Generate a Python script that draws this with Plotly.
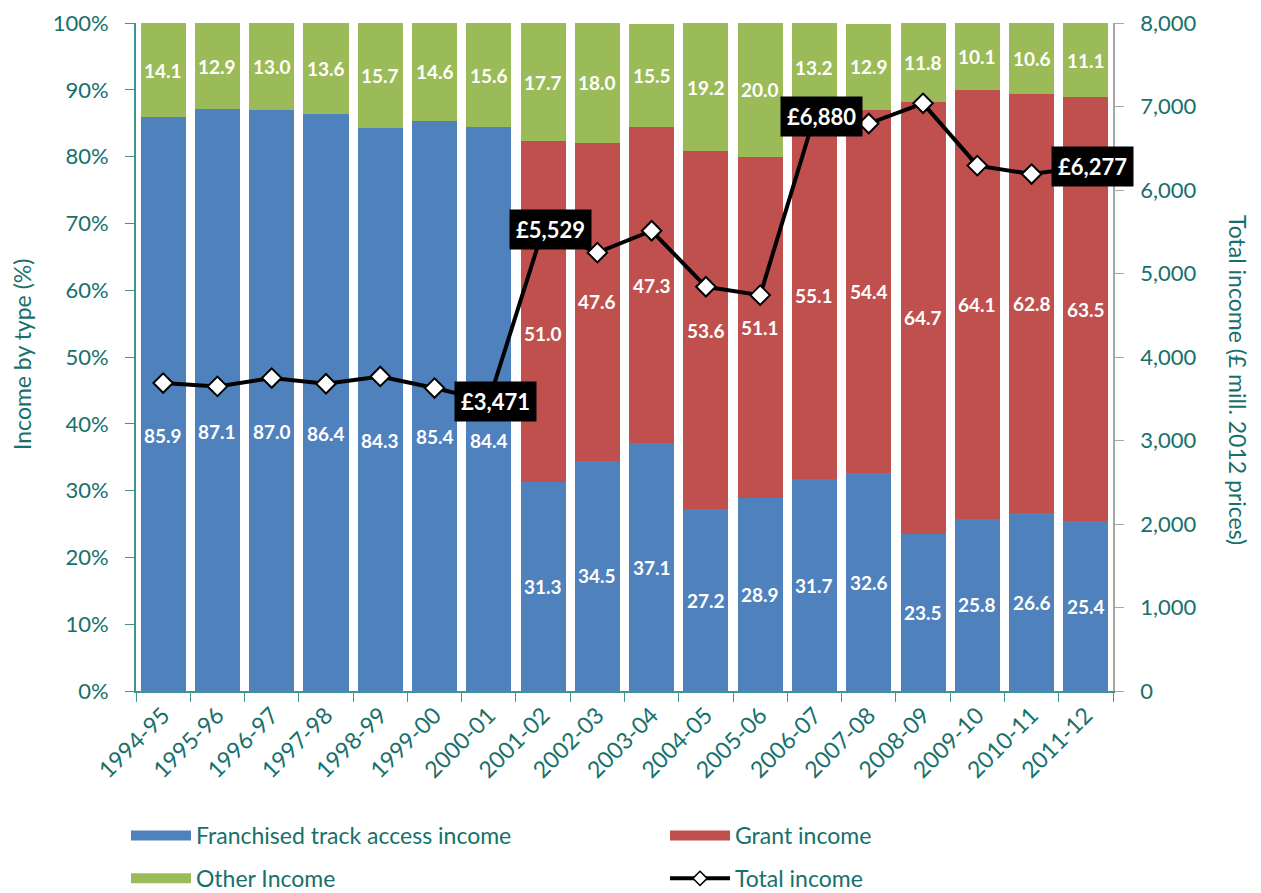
import plotly.graph_objects as go

years = ["1994-95", "1995-96", "1996-97", "1997-98", "1998-99", "1999-00", "2000-01",
         "2001-02", "2002-03", "2003-04", "2004-05", "2005-06", "2006-07", "2007-08",
         "2008-09", "2009-10", "2010-11", "2011-12"]
track_pct = [85.9, 87.1, 87.0, 86.4, 84.3, 85.4, 84.4, 31.3, 34.5, 37.1, 27.2, 28.9,
             31.7, 32.6, 23.5, 25.8, 26.6, 25.4]
grant_pct = [0, 0, 0, 0, 0, 0, 0, 51.0, 47.6, 47.3, 53.6, 51.1, 55.1, 54.4, 64.7,
             64.1, 62.8, 63.5]
other_pct = [14.1, 12.9, 13.0, 13.6, 15.7, 14.6, 15.6, 17.7, 18.0, 15.5, 19.2, 20.0,
             13.2, 12.9, 11.8, 10.1, 10.6, 11.1]
total_income = [3688, 3648, 3748, 3680, 3767, 3628, 3471, 5529, 5250, 5512, 4841, 4741,
                6880, 6796, 7038, 6292, 6191, 6277]
callout_years = ["2000-01", "2001-02", "2006-07", "2011-12"]

BLUE, RED, GREEN = "#4F81BD", "#C0504D", "#9BBB59"
TEAL = "#17706B"
TEAL_LINE = "#3E968F"
FONT = "Lato"

# page body has an 8px margin: build the figure 8px smaller and shifted
OFF = 8
W, H = 1261 - OFF, 893 - OFF
PL, PR, PT, PB = 136 - OFF, 1113 - OFF, 23 - OFF, 691 - OFF
PW, PH = PR - PL, PB - PT


def px_x(x):
    return (x - OFF - PL) / PW


def px_y(y):
    return (PB - (y - OFF)) / PH


fig = go.Figure()
for name, vals, col in [("Franchised track access income", track_pct, BLUE),
                        ("Grant income", grant_pct, RED),
                        ("Other Income", other_pct, GREEN)]:
    fig.add_trace(go.Bar(x=years, y=vals, name=name, marker=dict(color=col, line=dict(width=0)),
                         showlegend=False, legendgroup=name, hoverinfo="x+y"))

fig.add_trace(go.Scatter(x=years, y=total_income, name="Total income", yaxis="y2",
                         mode="lines+markers", line=dict(color="black", width=4),
                         marker=dict(symbol="diamond", size=15, color="white",
                                     line=dict(color="black", width=2)),
                         showlegend=False))

for name, col, lg in [("Franchised track access income", BLUE, "legend"),
                      ("Other Income", GREEN, "legend"),
                      ("Grant income", RED, "legend2")]:
    fig.add_trace(go.Scatter(x=[None], y=[None], mode="lines", name=name, legendgroup=name,
                             legend=lg, line=dict(color=col, width=16)))
fig.add_trace(go.Scatter(x=[None], y=[None], mode="lines+markers", name="Total income",
                         legend="legend2", legendgroup="Total income",
                         line=dict(color="black", width=4),
                         marker=dict(symbol="diamond", size=11, color="white",
                                     line=dict(color="black", width=1.5))))

annotations = []
lbl_font = dict(family=FONT, size=19, color="white", weight="bold")
for i, yr in enumerate(years):
    t, g, o = track_pct[i], grant_pct[i], other_pct[i]
    shift_t = -31 if g == 0 else 0
    annotations.append(dict(x=yr, y=t / 2, xref="x", yref="y", text=f"{t:.1f}",
                            showarrow=False, yshift=shift_t, font=lbl_font))
    if g > 0:
        shift_g = -22 if yr == "2001-02" else 0
        annotations.append(dict(x=yr, y=t + g / 2, xref="x", yref="y", text=f"{g:.1f}",
                                showarrow=False, yshift=shift_g, font=lbl_font))
    annotations.append(dict(x=yr, y=t + g + o / 2, xref="x", yref="y", text=f"{o:.1f}",
                            showarrow=False, font=lbl_font))

for yr in callout_years:
    v = total_income[years.index(yr)]
    annotations.append(dict(x=yr, y=v, xref="x", yref="y2", text=f"£{v:,}",
                            showarrow=False, xshift=7, bgcolor="black", borderpad=6,
                            font=dict(family=FONT, size=22, color="white", weight="bold")))

annotations.append(dict(x=px_x(22), y=px_y(355), xref="paper", yref="paper",
                        text="Income by type (%)", textangle=-90, showarrow=False,
                        xanchor="center", yanchor="middle",
                        font=dict(family=FONT, size=23, color=TEAL)))
annotations.append(dict(x=px_x(1238), y=px_y(380), xref="paper", yref="paper",
                        text="Total income (£ mill. 2012 prices)", textangle=90, showarrow=False,
                        xanchor="center", yanchor="middle",
                        font=dict(family=FONT, size=23, color=TEAL)))

legend_common = dict(orientation="v", xanchor="left", yanchor="top", tracegroupgap=10,
                     itemwidth=60, font=dict(family=FONT, size=23, color=TEAL),
                     bgcolor="rgba(0,0,0,0)")

fig.update_layout(
    width=W, height=H,
    margin=dict(l=PL, r=W - PR, t=PT, b=H - PB, autoexpand=False),
    barmode="stack", bargap=0.17,
    plot_bgcolor="white", paper_bgcolor="white",
    font=dict(family=FONT, color=TEAL),
    xaxis=dict(type="category", range=[-0.5, 17.5], tickangle=-45, tickson="boundaries",
               ticks="outside", ticklen=9, tickcolor=TEAL_LINE, showline=True,
               linecolor=TEAL_LINE, linewidth=1.5, showgrid=False,
               tickfont=dict(family=FONT, size=23, color=TEAL)),
    yaxis=dict(range=[0, 100], dtick=10, ticksuffix="%", ticks="outside", ticklen=9,
               tickcolor=TEAL_LINE, showline=True, linecolor=TEAL_LINE, linewidth=2,
               showgrid=False, zeroline=False, ticklabelstandoff=12,
               ticklabeloverflow="allow",
               tickfont=dict(family=FONT, size=22, color=TEAL)),
    yaxis2=dict(range=[0, 8000], dtick=1000, tickformat=",", overlaying="y", side="right",
                ticks="outside", ticklen=9, tickcolor="#A6A6A6", showline=True,
                linecolor="#A6A6A6", linewidth=1.5, showgrid=False, zeroline=False,
                ticklabelstandoff=12, ticklabeloverflow="allow",
                tickfont=dict(family=FONT, size=22, color=TEAL)),
    legend=dict(x=px_x(126), y=px_y(814), **legend_common),
    legend2=dict(x=px_x(665), y=px_y(814), **legend_common),
    annotations=annotations,
    hovermode="closest",
)

fig.write_html("out.html")
